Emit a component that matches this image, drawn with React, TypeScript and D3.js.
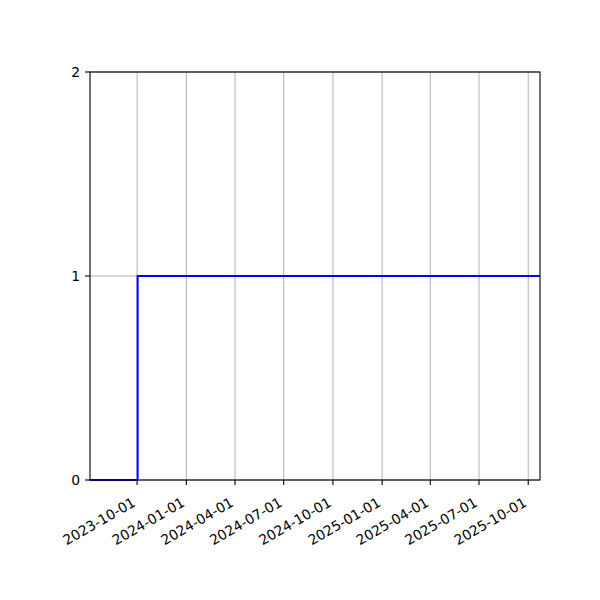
import React, { useEffect, useRef } from 'react'
import * as d3 from 'd3'

// step data: date, value
const dates = ['2023-07-05', '2023-10-02', '2025-10-23']
const values = [0, 1, 1]
const xTicks = ['2023-10-01', '2024-01-01', '2024-04-01', '2024-07-01', '2024-10-01', '2025-01-01', '2025-04-01', '2025-07-01', '2025-10-01']
const yTicks = [0, 1, 2]
const xStart = '2023-07-05'
const xEnd = '2025-10-23'

export default function App() {
    const ref = useRef<SVGSVGElement | null>(null)

    const width = 600
    const height = 600
    const margin = { top: 72, right: 60, bottom: 120, left: 90 }

    function draw() {
        const svg = d3.select(ref.current)
        svg.selectAll('*').remove()
        const parse = d3.utcParse('%Y-%m-%d')
        const innerW = width - margin.left - margin.right
        const innerH = height - margin.top - margin.bottom

        const x = d3.scaleUtc()
            .domain([parse(xStart)!, parse(xEnd)!])
            .range([margin.left, margin.left + innerW])
        const y = d3.scaleLinear()
            .domain([0, 2])
            .range([margin.top + innerH, margin.top])

        const g = svg.append('g')
        const font = 'DejaVu Sans'

        // grid
        g.selectAll('.vgrid')
            .data(xTicks)
            .enter().append('line')
            .attr('x1', d => x(parse(d)!)).attr('x2', d => x(parse(d)!))
            .attr('y1', margin.top).attr('y2', margin.top + innerH)
            .attr('stroke', '#b0b0b0').attr('stroke-width', 1)
        g.selectAll('.hgrid')
            .data(yTicks)
            .enter().append('line')
            .attr('x1', margin.left).attr('x2', margin.left + innerW)
            .attr('y1', d => y(d)).attr('y2', d => y(d))
            .attr('stroke', '#b0b0b0').attr('stroke-width', 1)

        const pts: [Date, number][] = dates.map((d, i) => [parse(d)!, values[i]])
        const line = d3.line<[Date, number]>()
            .x(d => x(d[0]))
            .y(d => y(d[1]))
            .curve(d3.curveStepAfter)
        g.append('path')
            .datum(pts)
            .attr('d', line)
            .attr('fill', 'none')
            .attr('stroke', '#0000ff')
            .attr('stroke-width', 2)

        // frame
        g.append('rect')
            .attr('x', margin.left).attr('y', margin.top)
            .attr('width', innerW).attr('height', innerH)
            .attr('fill', 'none').attr('stroke', '#000').attr('stroke-width', 1.1)

        // x ticks
        const xt = g.selectAll('.xt')
            .data(xTicks)
            .enter().append('g')
            .attr('transform', d => 'translate(' + x(parse(d)!) + ',' + (margin.top + innerH) + ')')
        xt.append('line').attr('y2', 5).attr('stroke', '#000').attr('stroke-width', 1.1)
        xt.append('text')
            .attr('transform', 'translate(-3,21) rotate(-30)')
            .attr('text-anchor', 'end')
            .attr('font-family', font)
            .attr('font-size', 13.9)
            .attr('dy', '0.35em')
            .text(d => d)

        // y ticks
        const yt = g.selectAll('.yt')
            .data(yTicks)
            .enter().append('g')
            .attr('transform', d => 'translate(' + margin.left + ',' + y(d) + ')')
        yt.append('line').attr('x2', -5).attr('stroke', '#000').attr('stroke-width', 1.1)
        yt.append('text')
            .attr('x', -10)
            .attr('dy', '0.36em')
            .attr('text-anchor', 'end')
            .attr('font-family', font)
            .attr('font-size', 13.9)
            .text(d => d)
    }

    useEffect(() => {
        draw()
    }, [])

    return (
        <svg ref={ref} width={width} height={height} style={{ display: 'block', position: 'absolute', left: 0, top: 0 }} />
    )
}
